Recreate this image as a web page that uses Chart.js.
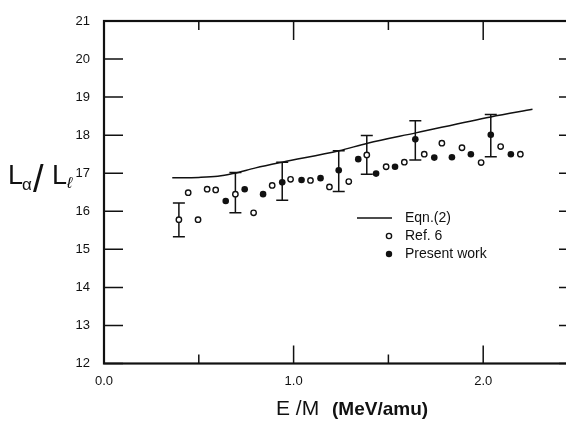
<!DOCTYPE html>
<html><head><meta charset="utf-8">
<script src="https://cdn.jsdelivr.net/npm/chart.js@4"></script>
<style>
html,body{margin:0;padding:0;overflow:hidden;background:#fff;width:566px;height:421px}
#wrap{position:relative;width:590px;height:421px}
</style>
</head><body><div id="wrap"><canvas id="c"></canvas></div>
<script>
// ---- data ----
const eqnX = [0.36, 0.50, 0.60, 0.68, 0.80, 0.94, 1.24, 1.39, 1.645, 2.04, 2.26];
const eqnY = [16.88, 16.89, 16.92, 16.99, 17.14, 17.29, 17.59, 17.79, 18.06, 18.48, 18.68];

const ref6X = [0.395, 0.444, 0.496, 0.544, 0.589, 0.693, 0.789, 0.887, 0.984, 1.089, 1.189, 1.291, 1.386, 1.488, 1.584, 1.689, 1.782, 1.888, 1.989, 2.092, 2.196];
const ref6Y = [15.78, 16.49, 15.78, 16.58, 16.56, 16.45, 15.96, 16.68, 16.84, 16.81, 16.64, 16.78, 17.48, 17.17, 17.29, 17.50, 17.79, 17.67, 17.28, 17.70, 17.50];

const presentX = [0.642, 0.742, 0.839, 0.940, 1.042, 1.142, 1.238, 1.341, 1.435, 1.535, 1.642, 1.742, 1.835, 1.935, 2.040, 2.146];
const presentY = [16.27, 16.58, 16.45, 16.76, 16.82, 16.87, 17.08, 17.37, 16.99, 17.17, 17.89, 17.41, 17.42, 17.50, 18.01, 17.50];

const errX    = [0.395, 0.693, 0.940, 1.238, 1.386, 1.642, 2.040];
const errLow  = [15.33, 15.96, 16.29, 16.52, 16.97, 17.35, 17.43];
const errHigh = [16.22, 17.02, 17.29, 17.59, 17.99, 18.38, 18.54];

const xMajorTicks = [0, 1, 2];
const xMinorTicks = [0.5, 1.5, 2.5];
const yTicks = [12, 13, 14, 15, 16, 17, 18, 19, 20, 21];

const seriesLabels = ['Eqn.(2)', 'Ref. 6', 'Present work'];
const xTitleA = 'E /M';
const xTitleB = '(MeV/amu)';

const pts = (xs, ys) => xs.map((x, i) => ({x, y: ys[i]}));
const INK = '#111';
const FONT = '"Liberation Sans", Arial, sans-serif';

const decor = {
  id: 'decor',
  beforeDatasetsDraw(chart) {
    const {ctx, scales: {x, y}} = chart;
    ctx.save();
    ctx.strokeStyle = INK;
    ctx.lineWidth = 1.5;
    errX.forEach((v, i) => {
      const px = x.getPixelForValue(v);
      const p1 = y.getPixelForValue(errLow[i]);
      const p2 = y.getPixelForValue(errHigh[i]);
      ctx.beginPath();
      ctx.moveTo(px, p1); ctx.lineTo(px, p2);
      ctx.moveTo(px - 6, p1); ctx.lineTo(px + 6, p1);
      ctx.moveTo(px - 6, p2); ctx.lineTo(px + 6, p2);
      ctx.stroke();
    });
    ctx.restore();
  },
  afterDraw(chart) {
    const {ctx, chartArea: a, scales: {x, y}} = chart;
    ctx.save();
    ctx.strokeStyle = INK;
    ctx.lineWidth = 2.2;
    ctx.strokeRect(a.left, a.top, a.right - a.left, a.bottom - a.top);
    ctx.lineWidth = 1.5;
    ctx.beginPath();
    yTicks.forEach(v => {
      const py = y.getPixelForValue(v);
      ctx.moveTo(a.left, py); ctx.lineTo(a.left + 19, py);
      ctx.moveTo(a.right, py); ctx.lineTo(a.right - 19, py);
    });
    xMajorTicks.forEach(v => {
      const px = x.getPixelForValue(v);
      ctx.moveTo(px, a.bottom); ctx.lineTo(px, a.bottom - 18);
      ctx.moveTo(px, a.top); ctx.lineTo(px, a.top + 19);
    });
    xMinorTicks.forEach(v => {
      const px = x.getPixelForValue(v);
      ctx.moveTo(px, a.bottom); ctx.lineTo(px, a.bottom - 9);
      ctx.moveTo(px, a.top); ctx.lineTo(px, a.top + 9);
    });
    ctx.stroke();

    // legend
    ctx.fillStyle = INK;
    ctx.font = '14px ' + FONT;
    ctx.textBaseline = 'middle';
    ctx.textAlign = 'left';
    const lx = 405, ly = [218, 236, 254];
    ctx.lineWidth = 1.5;
    ctx.beginPath(); ctx.moveTo(357, ly[0]); ctx.lineTo(392, ly[0]); ctx.stroke();
    ctx.beginPath(); ctx.arc(389, ly[1], 2.6, 0, Math.PI * 2);
    ctx.fillStyle = '#fff'; ctx.fill(); ctx.lineWidth = 1.4; ctx.stroke();
    ctx.fillStyle = INK;
    ctx.beginPath(); ctx.arc(389, ly[2], 3.2, 0, Math.PI * 2); ctx.fill();
    chart.data.datasets.forEach((d, i) => ctx.fillText(d.label, lx, ly[i]));

    // x title
    ctx.textBaseline = 'alphabetic';
    ctx.font = '21px ' + FONT;
    ctx.fillText(xTitleA, 276, 415);
    ctx.font = 'bold 19px ' + FONT;
    ctx.fillText(xTitleB, 332, 415);

    // y title  L_alpha / L_l
    ctx.font = '27px ' + FONT;
    ctx.fillText('L', 8, 184);
    ctx.font = '17px ' + FONT;
    ctx.fillText('α', 22, 190);
    ctx.font = '38px ' + FONT;
    ctx.fillText('/', 33, 192);
    ctx.font = '27px ' + FONT;
    ctx.fillText('L', 52, 184);
    ctx.font = 'italic 16px ' + FONT;
    ctx.fillText('ℓ', 67, 188);
    ctx.restore();
  }
};

new Chart(document.getElementById('c'), {
  type: 'scatter',
  data: {
    datasets: [
      {type: 'line', label: seriesLabels[0], data: pts(eqnX, eqnY), borderColor: INK, borderWidth: 1.5,
       pointRadius: 0, fill: false, cubicInterpolationMode: 'monotone', order: 3},
      {label: seriesLabels[1], data: pts(ref6X, ref6Y), pointRadius: 2.7, pointBorderWidth: 1.4,
       pointBackgroundColor: '#fff', pointBorderColor: INK, order: 2},
      {label: seriesLabels[2], data: pts(presentX, presentY), pointRadius: 3.3, pointBorderWidth: 0,
       pointBackgroundColor: INK, pointBorderColor: INK, order: 1}
    ]
  },
  options: {
    responsive: true, maintainAspectRatio: false, animation: false, devicePixelRatio: 1,
    layout: {padding: {top: 21, right: 12, left: 0, bottom: 0}},
    plugins: {legend: {display: false}, tooltip: {enabled: false}},
    scales: {
      x: {type: 'linear', min: 0, max: 2.5,
          ticks: {stepSize: 1, includeBounds: false, autoSkip: false, maxRotation: 0,
                  callback: v => Number(v).toFixed(1), color: INK, padding: 2, font: {family: FONT, size: 13}},
          grid: {display: false}, border: {display: false},
          afterFit(s) { s.height = 57.5; }},
      y: {min: 12, max: 21,
          ticks: {stepSize: 1, color: INK, padding: 6, font: {family: FONT, size: 13}},
          grid: {display: false}, border: {display: false},
          afterFit(s) { s.width = 104; }}
    }
  },
  plugins: [decor]
});
</script>
</body></html>
